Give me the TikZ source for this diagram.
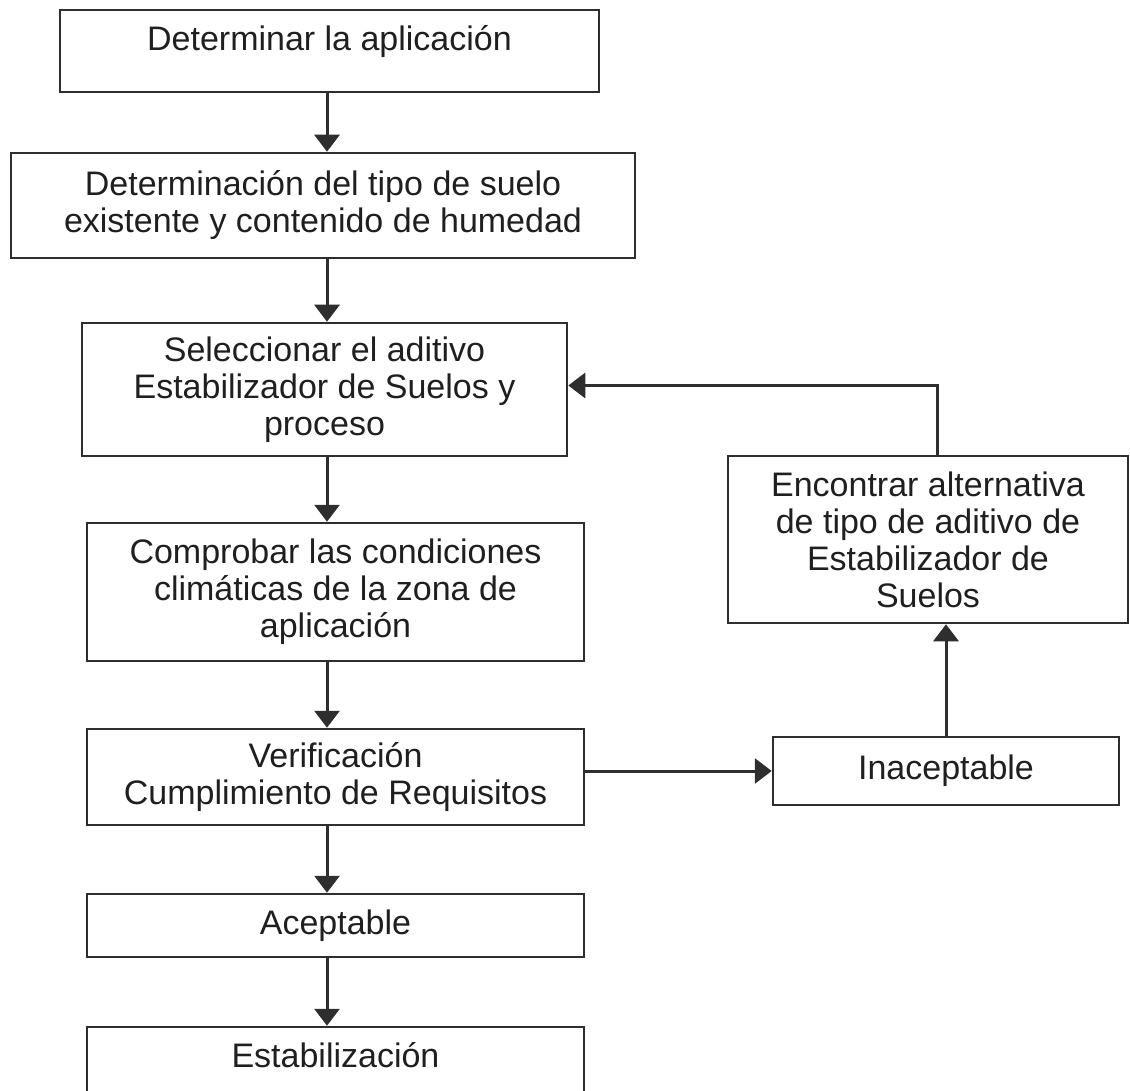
\documentclass[tikz,border=0pt]{standalone}
\usepackage{fontspec}
\setmainfont{Liberation Sans}
\usetikzlibrary{arrows.meta}
\definecolor{linegray}{gray}{0.18}
\definecolor{textgray}{gray}{0.12}

\begin{document}
\begin{tikzpicture}[x=0.5pt,y=-0.5pt,
        box/.style={draw=linegray,line width=1.25pt,rectangle,align=center,inner sep=0pt,text=textgray,font=\fontsize{17}{18.5}\selectfont},
        flow/.style={->,draw=linegray,line width=1.5pt},
        >={Triangle[width=12.5pt,length=8.5pt]}]

        \useasboundingbox (0,0) rectangle (1130,1091);
        \clip (0,0) rectangle (1130,1091);
        \coordinate (spine) at (327,0);

        \node[box,minimum width=269.5pt,minimum height=41pt,text depth=13pt] (det) at (329.5,51) {Determinar la aplicación};
        \node[box,minimum width=312pt,minimum height=52.5pt] (suelo) at (323,205.5) {Determinación del tipo de suelo\\existente y contenido de humedad};
        \node[box,minimum width=242.5pt,minimum height=66.5pt] (aditivo) at (324.5,389.5) {Seleccionar el aditivo\\Estabilizador de Suelos y\\proceso};
        \node[box,minimum width=248.5pt,minimum height=69pt] (clima) at (335.5,592) {Comprobar las condiciones\\climáticas de la zona de\\aplicación};
        \node[box,minimum width=248.5pt,minimum height=48pt] (verif) at (335.5,777) {Verificación\\Cumplimiento de Requisitos};
        \node[box,minimum width=248.5pt,minimum height=31.5pt] (acept) at (335.5,925.5) {Aceptable};
        \node[box,minimum width=248.5pt,minimum height=36.5pt,text depth=8.5pt] (estab) at (335.5,1063.5) {Estabilización};

        \node[box,minimum width=200pt,minimum height=83.5pt] (alterna) at (928,539.5) {Encontrar alternativa\\de tipo de aditivo de\\Estabilizador de\\Suelos};
        \node[box,minimum width=173pt,minimum height=34pt] (inacep) at (946,771) {Inaceptable};

        \draw[flow] (det.south -| spine) -- (suelo.north -| spine);
        \draw[flow] (suelo.south -| spine) -- (aditivo.north -| spine);
        \draw[flow] (aditivo.south -| spine) -- (clima.north -| spine);
        \draw[flow] (clima.south -| spine) -- (verif.north -| spine);
        \draw[flow] (verif.south -| spine) -- (acept.north -| spine);
        \draw[flow] (acept.south -| spine) -- (estab.north -| spine);

        \draw[flow] (inacep.west -| verif.east) -- (inacep.west);
        \draw[flow] (inacep.north) -- (inacep.north |- alterna.south);
        \draw[flow] ([xshift=4.5pt]alterna.north) |- ([yshift=2pt]aditivo.east);
    \end{tikzpicture}
\end{document}
